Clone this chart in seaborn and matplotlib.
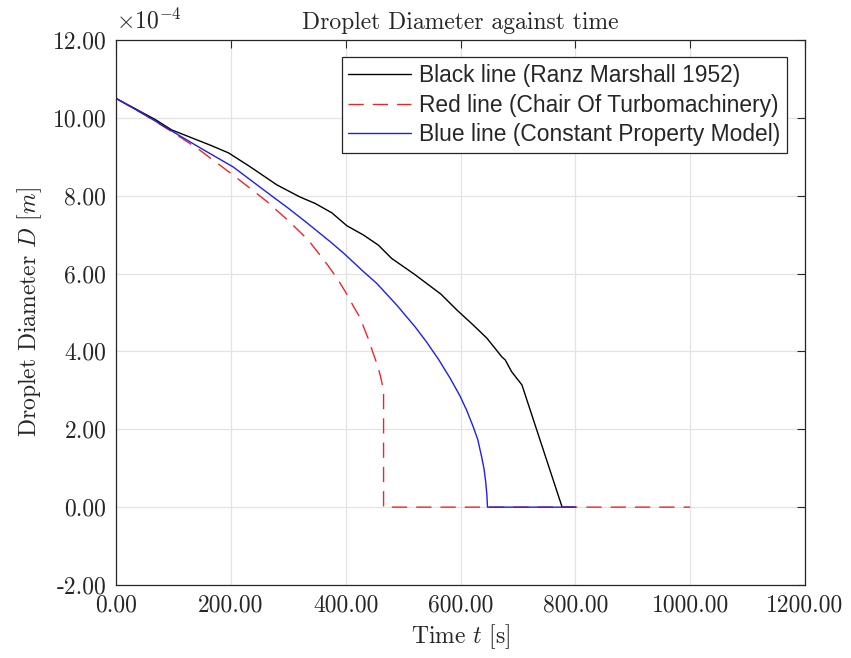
import numpy as np
import pandas as pd
import matplotlib
matplotlib.use("Agg")
import matplotlib.pyplot as plt
from matplotlib.ticker import FixedLocator, FuncFormatter
import seaborn as sns

# Droplet diameter histories, diameters given in units of 1e-4 m
black_t = [0, 68, 97, 164, 196, 233, 280, 320, 347, 376, 402, 431, 457, 480,
           520, 566, 594, 622, 646, 672, 678, 689, 707, 777, 800]
black_d = [10.5, 9.96, 9.69, 9.30, 9.10, 8.75, 8.28, 7.97, 7.80, 7.56, 7.23,
           6.99, 6.73, 6.39, 5.98, 5.47, 5.06, 4.68, 4.34, 3.86, 3.78, 3.48,
           3.14, 0.0, 0.0]

red_t = [0, 50, 100, 146, 204, 263, 300, 335, 367, 385, 400, 415, 425, 431,
         440, 448, 454, 460, 466, 466, 1000]
red_d = [10.5, 10.08, 9.62, 9.17, 8.53, 7.85, 7.36, 6.86, 6.25, 5.88, 5.52,
         5.12, 4.87, 4.64, 4.30, 3.95, 3.70, 3.40, 3.01, 0.0, 0.0]

blue_t = [0, 50, 111, 150, 204, 268, 300, 332, 373, 396, 431, 454, 489, 521,
          541, 562, 582, 599, 611, 622, 630, 637, 641, 644, 646, 647, 800]
blue_d = [10.5, 10.08, 9.54, 9.20, 8.74, 8.03, 7.68, 7.31, 6.82, 6.53, 6.05,
          5.75, 5.19, 4.63, 4.24, 3.79, 3.31, 2.86, 2.48, 2.07, 1.74, 1.28,
          0.98, 0.64, 0.30, 0.0, 0.0]

labels = ["Black line (Ranz Marshall 1952)",
          "Red line (Chair Of Turbomachinery)",
          "Blue line (Constant Property Model)"]

x_ticks = [0, 200, 400, 600, 800, 1000, 1200]
y_ticks = [-2, 0, 2, 4, 6, 8, 10, 12]
scale = 1e-4

sns.set_theme(style="white")
plt.rcParams["font.family"] = ["cmr10", "DejaVu Serif"]
plt.rcParams["mathtext.fontset"] = "cm"
plt.rcParams["axes.formatter.use_mathtext"] = True

fig = plt.figure(figsize=(8.51, 6.58), dpi=100)
ax = fig.add_axes([116 / 851, 1 - 585 / 658, 689 / 851, 545 / 658])

series = [
    (black_t, black_d, "black", None),
    (red_t, red_d, "#e8282b", (0, (11, 6.5))),
    (blue_t, blue_d, "#1f1fe6", None),
]
for (t, d, color, dash), lab in zip(series, labels):
    df = pd.DataFrame({"t": t, "D": np.asarray(d) * scale})
    kw = {}
    if dash is not None:
        kw["linestyle"] = dash
    sns.lineplot(data=df, x="t", y="D", ax=ax, color=color, lw=1.0,
                 estimator=None, sort=False, label=lab, **kw)

ax.set_xlim(0, 1200)
ax.set_ylim(-2 * scale, 12 * scale)
ax.xaxis.set_major_locator(FixedLocator(x_ticks))
ax.yaxis.set_major_locator(FixedLocator([v * scale for v in y_ticks]))
ax.xaxis.set_major_formatter(FuncFormatter(lambda v, p: f"{v:.2f}"))
ax.yaxis.set_major_formatter(
    FuncFormatter(lambda v, p: ("-" if v < -1e-9 else "") + f"{abs(v) / scale:.2f}"))

ax.grid(True, color="#e3e3e3", lw=0.9)
ax.set_axisbelow(True)
for s in ax.spines.values():
    s.set_color("#262626")
    s.set_linewidth(0.9)
ax.tick_params(direction="in", top=True, right=True, length=5.5, width=0.8,
               color="#262626", labelsize=17, pad=7, labelcolor="#262626")

ax.set_xlabel("Time $t$ [s]", fontsize=17, color="#262626", labelpad=4)
ax.set_ylabel("Droplet Diameter $D$ $[m]$", fontsize=17, color="#262626", labelpad=6)
ax.set_title("Droplet Diameter against time", fontsize=17, color="#262626", pad=8)
ax.text(0.0, 1.012, r"$\times10^{-4}$", transform=ax.transAxes, fontsize=17,
        color="#262626", ha="left", va="bottom")

leg = ax.legend(loc="upper right", bbox_to_anchor=(0.974, 0.969),
                prop={"family": "Liberation Sans", "size": 16.4},
                frameon=True, fancybox=False, framealpha=1, edgecolor="#262626",
                handlelength=2.75, handletextpad=0.35, borderpad=0.3,
                labelspacing=0.3, borderaxespad=0)
leg.get_frame().set_linewidth(0.9)

fig.savefig("out.png", dpi=100)
